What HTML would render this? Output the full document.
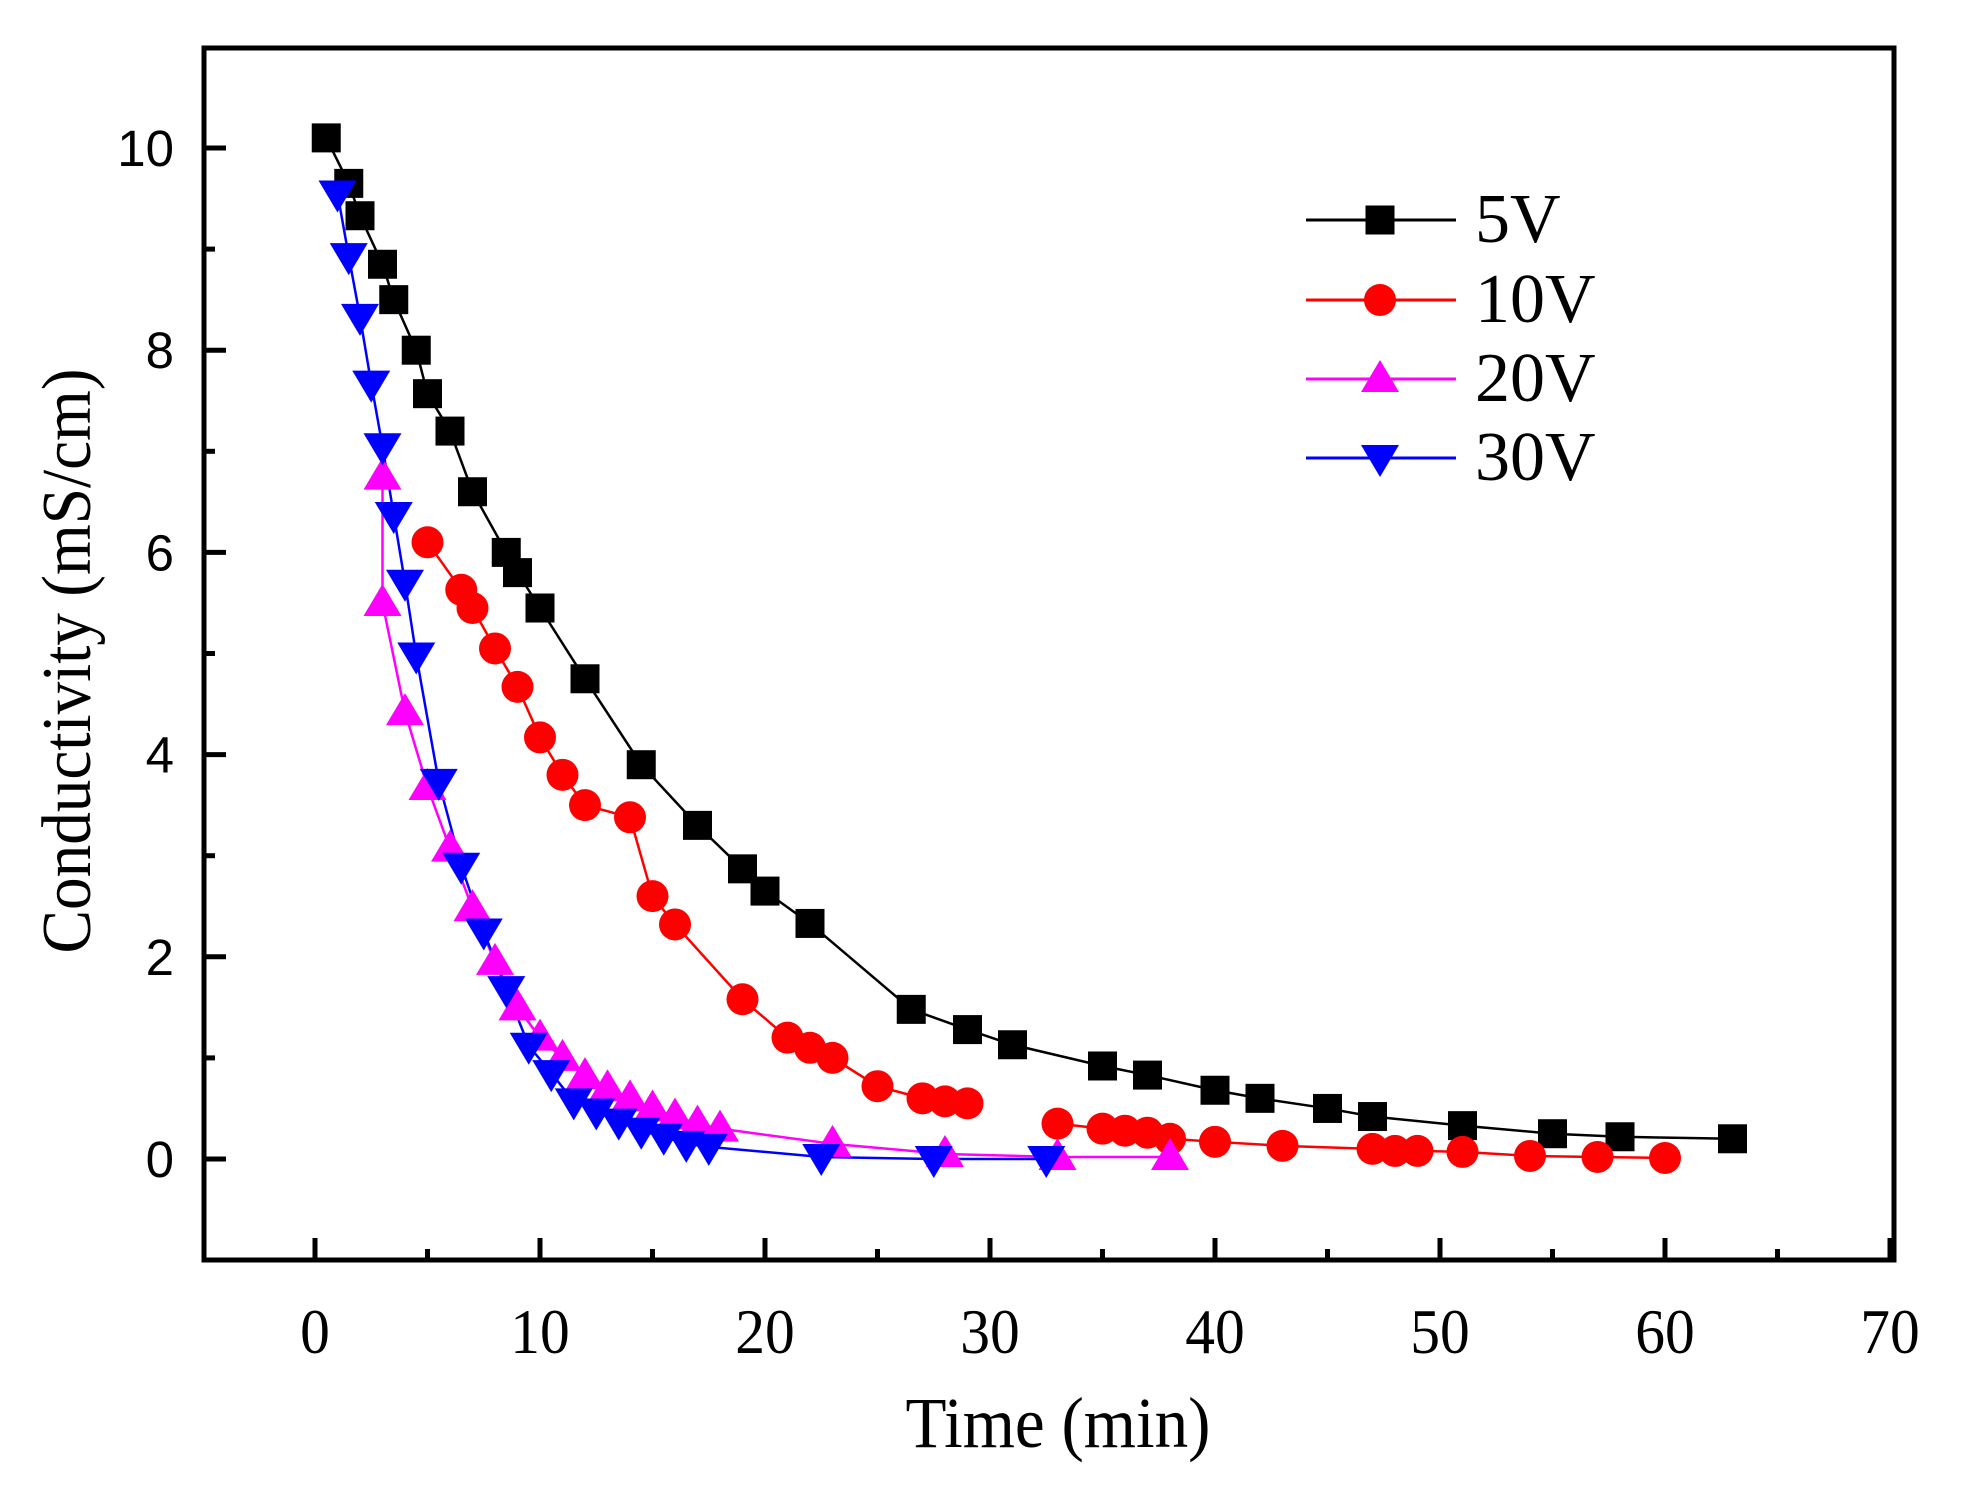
<!DOCTYPE html>
<html><head><meta charset="utf-8"><style>html,body{margin:0;padding:0;background:#fff}svg{display:block}</style></head>
<body>
<svg id="s" width="1966" height="1494" viewBox="0 0 1966 1494" xmlns="http://www.w3.org/2000/svg"></svg>
<script>
const s=document.getElementById('s');
const X=v=>315+v*22.5, Y=v=>1159-v*101.1;
let h='';
h+=`<rect x="204" y="48" width="1690" height="1212" fill="none" stroke="#000" stroke-width="5"/>`;
for(let v=0;v<=70;v+=5){const x=X(v);const L=v%10==0?22:11;h+=`<line x1="${x}" y1="1260" x2="${x}" y2="${1260-L}" stroke="#000" stroke-width="5"/>`;
 if(v%10==0)h+=`<text x="${x}" y="1353" font-family="Liberation Serif,serif" font-size="64" text-anchor="middle" transform="translate(${x},0) scale(0.93,1) translate(${-x},0)">${v}</text>`;}
for(let v=0;v<=10;v++){const y=Y(v);const L=v%2==0?22:11;h+=`<line x1="204" y1="${y}" x2="${204+L}" y2="${y}" stroke="#000" stroke-width="5"/>`;
 if(v%2==0)h+=`<text x="174" y="${y+18}" font-family="Liberation Sans,sans-serif" font-size="51" text-anchor="end">${v}</text>`;}
h+=`<text x="1058" y="1447" font-family="Liberation Serif,serif" font-size="72" text-anchor="middle" textLength="305" lengthAdjust="spacingAndGlyphs">Time (min)</text>`;
h+=`<text transform="translate(90,661) rotate(-90)" font-family="Liberation Serif,serif" font-size="70" text-anchor="middle" textLength="585" lengthAdjust="spacingAndGlyphs">Conductivity (mS/cm)</text>`;
const d5=[[0.5,10.1],[1.5,9.65],[2,9.33],[3,8.85],[3.5,8.5],[4.5,8.0],[5,7.57],[6,7.2],[7,6.6],[8.5,6.0],[9,5.8],[10,5.45],[12,4.75],[14.5,3.9],[17,3.3],[19,2.87],[20,2.65],[22,2.33],[26.5,1.48],[29,1.28],[31,1.13],[35,0.92],[37,0.83],[40,0.68],[42,0.6],[45,0.5],[47,0.42],[51,0.33],[55,0.25],[58,0.22],[63,0.2]];
const d10a=[[5,6.1],[6.5,5.63],[7,5.45],[8,5.05],[9,4.67],[10,4.17],[11,3.8],[12,3.5],[14,3.38],[15,2.6],[16,2.32],[19,1.58],[21,1.2],[22,1.1],[23,1.0],[25,0.72],[27,0.6],[28,0.57],[29,0.55]];
const d10b=[[33,0.35],[35,0.3],[36,0.28],[37,0.26],[38,0.2],[40,0.17],[43,0.13],[47,0.1],[48,0.08],[49,0.08],[51,0.07],[54,0.03],[57,0.02],[60,0.01]];
const d20=[[3,6.75],[3,5.5],[4,4.42],[5,3.68],[6,3.07],[7,2.48],[8,1.95],[9,1.5],[10,1.2],[11,1.0],[12,0.82],[13,0.7],[14,0.6],[15,0.5],[16,0.42],[17,0.35],[18,0.3],[23,0.15],[28,0.05],[33,0.02],[38,0.02]];
const d30=[[1,9.55],[1.5,8.93],[2,8.33],[2.5,7.67],[3,7.05],[3.5,6.37],[4,5.7],[4.5,4.98],[5.5,3.73],[6.5,2.9],[7.5,2.25],[8.5,1.68],[9.5,1.12],[10.5,0.85],[11.5,0.57],[12.5,0.47],[13.5,0.37],[14.5,0.28],[15.5,0.22],[16.5,0.15],[17.5,0.12],[22.5,0.02],[27.5,0],[32.5,0]];
const line=(d,c)=>`<polyline points="${d.map(p=>X(p[0])+','+Y(p[1])).join(' ')}" fill="none" stroke="${c}" stroke-width="2.5"/>`;
const mk=(t,x,y,c)=>{if(t=='s')return `<rect x="${x-14.5}" y="${y-14.5}" width="29" height="29" fill="${c}"/>`;
 if(t=='c')return `<circle cx="${x}" cy="${y}" r="16" fill="${c}"/>`;
 if(t=='u')return `<polygon points="${x},${y-19} ${x-19},${y+13} ${x+19},${y+13}" fill="${c}"/>`;
 return `<polygon points="${x},${y+19} ${x-19},${y-13} ${x+19},${y-13}" fill="${c}"/>`;};
const pts=(d,t,c)=>d.map(p=>mk(t,X(p[0]),Y(p[1]),c)).join('');
h+=line(d5,'#000')+line(d10a,'#f00')+line(d10b,'#f00')+line(d20,'#f0f')+line(d30,'#00f');
h+=pts(d5,'s','#000')+pts(d10a.concat(d10b),'c','#f00')+pts(d20,'u','#f0f')+pts(d30,'d','#00f');
const leg=[['5V','#000','s',220],['10V','#f00','c',300],['20V','#f0f','u',379],['30V','#00f','d',458]];
leg.forEach(l=>{h+=`<line x1="1306" y1="${l[3]}" x2="1456" y2="${l[3]}" stroke="${l[1]}" stroke-width="3"/>`+mk(l[2],1380,l[3],l[1])+
 `<text x="1475" y="${l[3]+22}" font-family="Liberation Serif,serif" font-size="70">${l[0]}</text>`;});
s.innerHTML=h;
</script>
</body></html>
